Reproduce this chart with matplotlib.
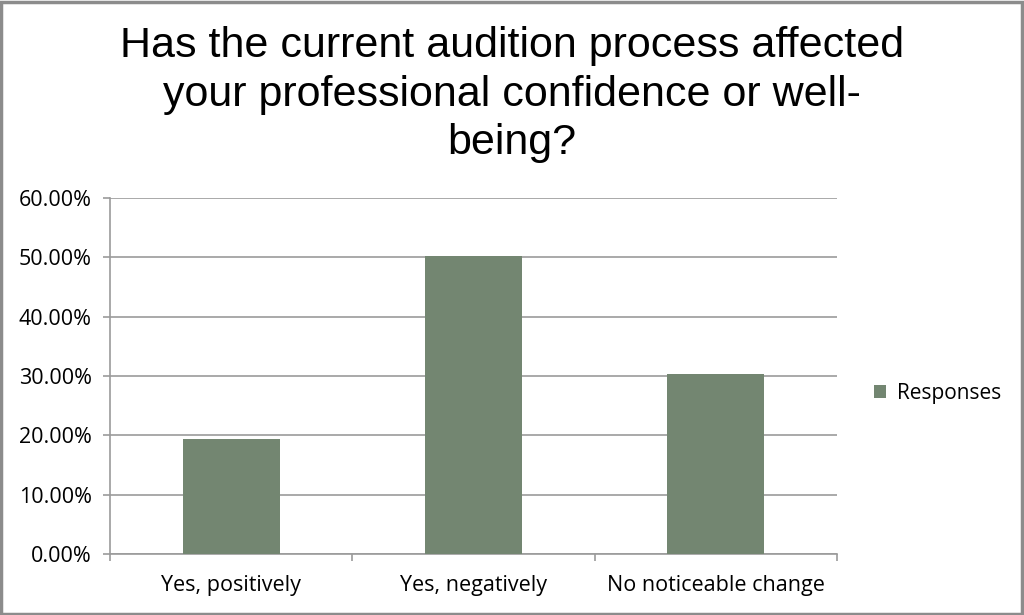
import matplotlib.pyplot as plt
from matplotlib.ticker import PercentFormatter
from matplotlib.patches import Rectangle

categories = ['Yes, positively', 'Yes, negatively', 'No noticeable change']
responses = [19.35, 50.25, 30.4]
yticks = [0, 10, 20, 30, 40, 50, 60]

bar_color = '#738671'
grid_color = '#9b9b9b'

fig = plt.figure(figsize=(10.24, 6.15), dpi=100)
ax = fig.add_axes([0.1074, 0.0992, 0.7100, 0.5788])

x = list(range(len(categories)))
ax.bar(x, responses, width=0.4, color=bar_color, label='Responses', zorder=3)

ax.set_xlim(-0.5, len(categories) - 0.5)
ax.set_ylim(0, 60)
ax.set_yticks(yticks)
ax.yaxis.set_major_formatter(PercentFormatter(decimals=2))
ax.yaxis.grid(True, color=grid_color, linewidth=1.2, zorder=0)

# category labels centred, tick marks on the boundaries
ax.set_xticks([i - 0.5 for i in range(len(categories) + 1)])
ax.set_xticklabels([])
ax.set_xticks(x, minor=True)
ax.set_xticklabels(categories, minor=True)
ax.tick_params(axis='x', which='minor', length=0, pad=15)
ax.tick_params(axis='x', which='major', length=5, color=grid_color, width=1.2)
ax.tick_params(axis='y', length=5, color=grid_color, width=1.2, pad=8)

for lab in ax.get_xticklabels(minor=True) + ax.get_yticklabels():
    lab.set_fontfamily('Open Sans')
    lab.set_fontsize(15.5)
    lab.set_color('black')

for side in ['top', 'right']:
    ax.spines[side].set_visible(False)
for side in ['left', 'bottom']:
    ax.spines[side].set_color(grid_color)
    ax.spines[side].set_linewidth(1.2)

fig.suptitle('Has the current audition process affected\nyour professional confidence or well-\nbeing?',
             x=0.5, y=0.958, fontsize=31, fontfamily='Liberation Sans', linespacing=1.28)

leg = fig.legend(loc='center left', bbox_to_anchor=(0.835, 0.36), frameon=False,
                 prop={'family': 'Open Sans', 'size': 15}, handlelength=0.6,
                 handleheight=0.6, handletextpad=0.5)

# outer border of the chart area
fig.patches.append(Rectangle((0.001, 0.002), 0.997, 0.995, transform=fig.transFigure,
                             fill=False, edgecolor='#8c8c8c', linewidth=2.5))

plt.savefig('out.png', dpi=100)
plt.close()
